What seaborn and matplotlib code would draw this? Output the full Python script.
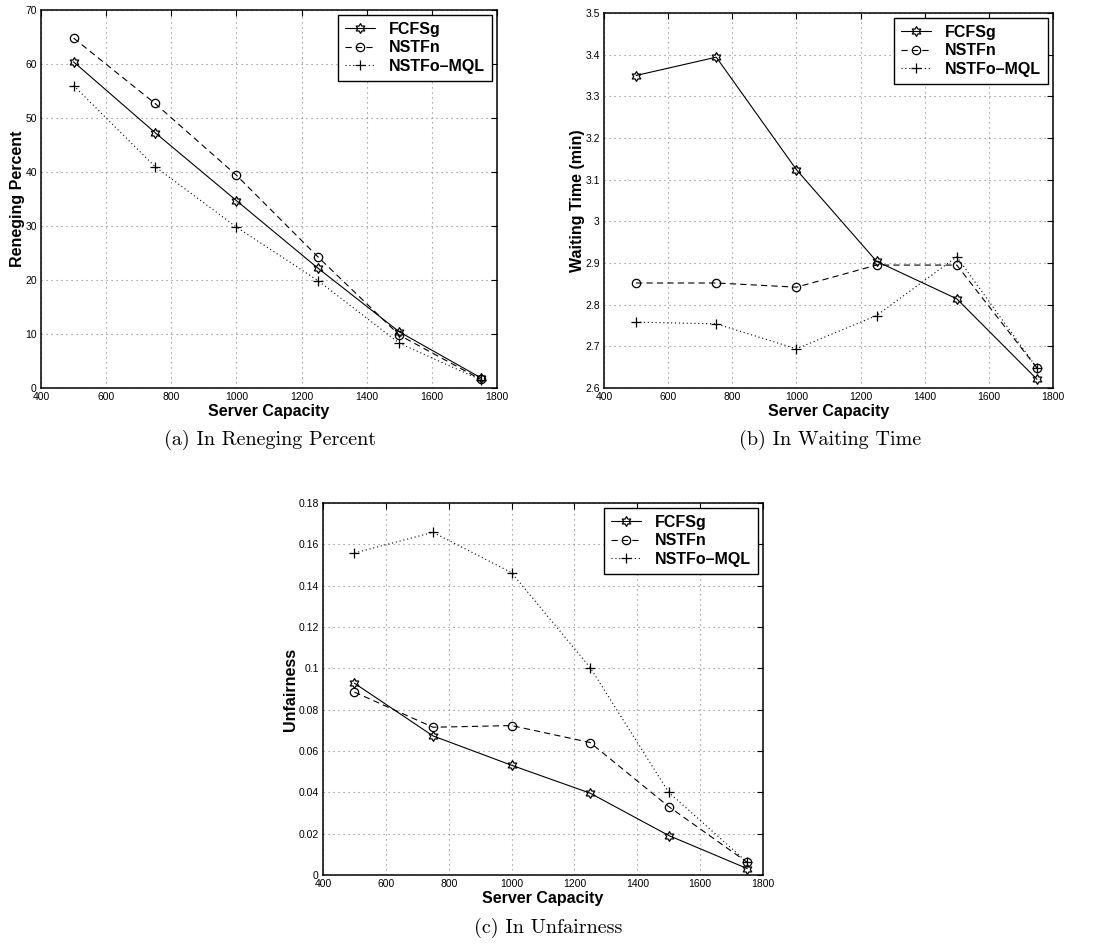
import numpy as np
import pandas as pd
import matplotlib
matplotlib.use("Agg")
import matplotlib.pyplot as plt
from matplotlib.path import Path
import seaborn as sns

# ---------------- data ----------------
capacity = [500, 750, 1000, 1250, 1500, 1750]
series_names = ["FCFSg", "NSTFn", "NSTFo\u2013MQL"]

reneging_fcfsg = [60.4, 47.3, 34.7, 22.2, 10.4, 1.9]
reneging_nstfn = [64.8, 52.7, 39.4, 24.3, 9.8, 1.6]
reneging_mql = [56.0, 41.0, 29.8, 19.9, 8.3, 1.5]

waiting_fcfsg = [3.350, 3.394, 3.124, 2.904, 2.814, 2.621]
waiting_nstfn = [2.852, 2.852, 2.842, 2.895, 2.895, 2.648]
waiting_mql = [2.758, 2.754, 2.694, 2.774, 2.915, 2.648]

unfair_fcfsg = [0.0928, 0.0673, 0.0531, 0.0396, 0.0191, 0.0031]
unfair_nstfn = [0.0885, 0.0715, 0.0723, 0.0641, 0.0331, 0.0061]
unfair_mql = [0.1558, 0.1658, 0.1463, 0.1004, 0.0400, 0.0061]

x_ticks = [400, 600, 800, 1000, 1200, 1400, 1600, 1800]
y_ticks_a = [0, 10, 20, 30, 40, 50, 60, 70]
y_ticks_b = [2.6, 2.7, 2.8, 2.9, 3.0, 3.1, 3.2, 3.3, 3.4, 3.5]
y_ticks_c = [0, 0.02, 0.04, 0.06, 0.08, 0.1, 0.12, 0.14, 0.16, 0.18]

# ---------------- style ----------------
sns.set_style("white")
plt.rcParams["font.family"] = ["Liberation Sans", "DejaVu Sans"]
plt.rcParams["text.color"] = "black"
plt.rcParams["axes.labelcolor"] = "black"
plt.rcParams["xtick.color"] = "black"
plt.rcParams["ytick.color"] = "black"
plt.rcParams["lines.scale_dashes"] = False

# hexagram marker shape
ang_out = np.deg2rad(90 + 60 * np.arange(6))
ang_in = ang_out + np.deg2rad(30)
r_in = 1 / np.sqrt(3)
verts = []
for ao, ai in zip(ang_out, ang_in):
    verts.append((np.cos(ao), np.sin(ao)))
    verts.append((r_in * np.cos(ai), r_in * np.sin(ai)))
verts.append(verts[0])
hexagram = Path(verts, closed=True)

styles = [
    dict(marker=hexagram, markersize=7, dashes_pt=None),
    dict(marker="o", markersize=6, dashes_pt=(4.5, 3.0)),
    dict(marker="+", markersize=6.5, dashes_pt=(0.8, 2.0)),
]

fig = plt.figure(figsize=(11.05, 9.52), dpi=100)

panels = [
    dict(rect=[41 / 1105, 1 - 388 / 952, 456 / 1105, 378 / 952],
         data=[reneging_fcfsg, reneging_nstfn, reneging_mql],
         yticks=y_ticks_a, ylabel="Reneging Percent",
         caption="(a) In Reneging Percent", cap_xy=(270, 440)),
    dict(rect=[604 / 1105, 1 - 388 / 952, 449 / 1105, 375 / 952],
         data=[waiting_fcfsg, waiting_nstfn, waiting_mql],
         yticks=y_ticks_b, ylabel="Waiting Time (min)",
         caption="(b) In Waiting Time", cap_xy=(830, 440)),
    dict(rect=[323 / 1105, 1 - 875 / 952, 440 / 1105, 372 / 952],
         data=[unfair_fcfsg, unfair_nstfn, unfair_mql],
         yticks=y_ticks_c, ylabel="Unfairness",
         caption="(c) In Unfairness", cap_xy=(548, 928)),
]

for p in panels:
    ax = fig.add_axes(p["rect"])
    for name, vals, st in zip(series_names, p["data"], styles):
        df = pd.DataFrame({"x": capacity, "y": vals})
        sns.lineplot(data=df, x="x", y="y", ax=ax, color="black",
                     linewidth=0.8, markerfacecolor="none",
                     markeredgecolor="black", markeredgewidth=0.9,
                     marker=st["marker"], markersize=st["markersize"],
                     label=name)
        line = ax.lines[-1]
        if st["dashes_pt"] is not None:
            line.set_dashes(st["dashes_pt"])
        else:
            line.set_linestyle("-")
    ax.set_xlim(x_ticks[0], x_ticks[-1])
    ax.set_ylim(p["yticks"][0], p["yticks"][-1])
    ax.set_xticks(x_ticks)
    ax.set_yticks(p["yticks"])
    ax.set_xticklabels([f"{v:g}" for v in x_ticks])
    ax.set_yticklabels([f"{v:g}" for v in p["yticks"]])
    ax.tick_params(direction="in", length=4, width=0.8, labelsize=7.5,
                   top=True, right=True, pad=3, colors="black")
    ax.grid(True, linestyle=(0, (0.8, 2.8)), color="#808080", linewidth=0.8)
    for s in ax.spines.values():
        s.set_visible(True)
        s.set_color("black")
        s.set_linewidth(1.1)
    ax.set_xlabel("Server Capacity", fontsize=11.5, fontweight="bold", labelpad=1)
    ax.set_ylabel(p["ylabel"], fontsize=11.5, fontweight="bold", labelpad=0)
    leg = ax.legend(loc="upper right", frameon=True, fancybox=False,
                    edgecolor="black", framealpha=1, borderaxespad=0.3,
                    handlelength=1.9, handletextpad=0.85, borderpad=0.45,
                    labelspacing=0.22, prop=dict(weight="bold", size=11.5))
    leg.get_frame().set_linewidth(1.0)
    for t in leg.get_texts():
        t.set_color("black")
    fig.text(p["cap_xy"][0] / 1105, 1 - p["cap_xy"][1] / 952, p["caption"],
             ha="center", va="center", fontsize=14.5,
             family=["cmr10", "DejaVu Serif"])

fig.savefig("out.png", dpi=100)
